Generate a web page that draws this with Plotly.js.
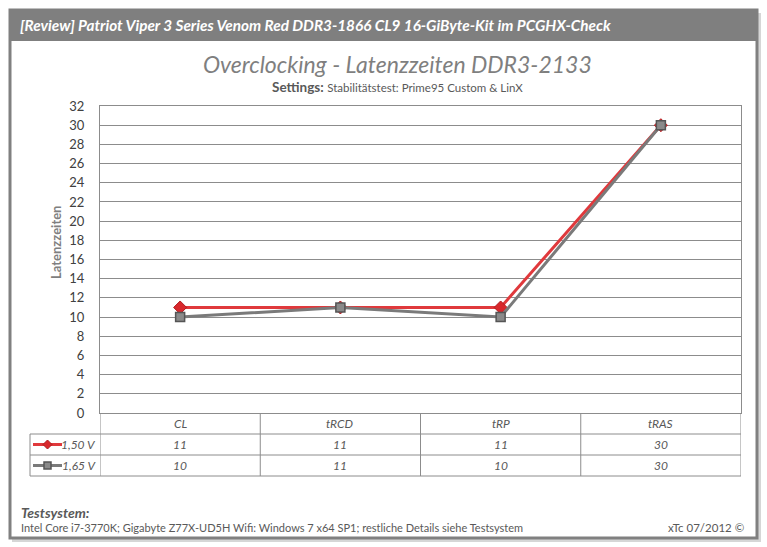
<!DOCTYPE html>
<html>
<head>
<meta charset="utf-8">
<script src="https://cdn.plot.ly/plotly-3.0.1.min.js"></script>
<style>
html,body{margin:0;padding:0;background:#fff;}
#chart{width:767px;height:547px;}
</style>
</head>
<body>
<div id="chart"></div>
<script>
var categories = ["CL", "tRCD", "tRP", "tRAS"];
var seriesNames = ["1,50 V", "1,65 V"];
var values150 = [11, 11, 11, 30];
var values165 = [10, 11, 10, 30];
var yTicks = [0, 2, 4, 6, 8, 10, 12, 14, 16, 18, 20, 22, 24, 26, 28, 30, 32];

var W = 767, H = 547;
var L = 100, R = 26, T = 106, B = 134;
var pw = W - L - R, ph = H - T - B;
function px(x) { return (x - L) / pw; }
function py(y) { return (H - B - y) / ph; }

var FONT = "Lato, 'Open Sans', sans-serif";
var red = "#e0393c", grayL = "#7a7a7a";

var traces = [
  {x: categories, y: values150, name: seriesNames[0], type: "scatter", mode: "lines+markers",
   line: {color: red, width: 3}, marker: {symbol: "diamond", size: 10, color: "#d8282c", line: {color: "#b01c1f", width: 1}}, cliponaxis: false},
  {x: categories, y: values165, name: seriesNames[1], type: "scatter", mode: "lines+markers",
   line: {color: grayL, width: 3}, marker: {symbol: "square", size: 9, color: "#8a8a8a", line: {color: "#555", width: 1.5}}, cliponaxis: false}
];

var shapes = [];
var annotations = [];
// shadow + card
shapes.push({type: "rect", xref: "paper", yref: "paper", x0: px(12), x1: px(761), y0: py(13), y1: py(542), fillcolor: "#d6d6d6", line: {width: 0}, layer: "below"});
shapes.push({type: "rect", xref: "paper", yref: "paper", x0: px(10), x1: px(757), y0: py(10), y1: py(538), fillcolor: "#ffffff", line: {color: "#808080", width: 3}, layer: "below"});
shapes.push({type: "rect", xref: "paper", yref: "paper", x0: px(9), x1: px(757), y0: py(9), y1: py(41), fillcolor: "#7f7f7f", line: {width: 0}, layer: "below"});

// data table
var rowY = [py(413), py(434), py(455), py(476)];
var gridC = "#8c8c8c";
for (var i = 0; i <= categories.length; i++) {
  shapes.push({type: "line", xref: "x", yref: "paper", x0: i - 0.5, x1: i - 0.5, y0: rowY[3], y1: rowY[0], line: {color: gridC, width: 1}});
}
for (var r = 1; r < rowY.length; r++) {
  shapes.push({type: "line", xref: "paper", yref: "paper", x0: px(30), x1: 1, y0: rowY[r], y1: rowY[r], line: {color: gridC, width: 1}});
}
shapes.push({type: "line", xref: "paper", yref: "paper", x0: px(30), x1: px(30), y0: rowY[1], y1: rowY[3], line: {color: gridC, width: 1}});

// legend keys in the data table
var k1 = (rowY[1] + rowY[2]) / 2, k2 = (rowY[2] + rowY[3]) / 2;
shapes.push({type: "line", xref: "paper", yref: "paper", x0: px(33), x1: px(62), y0: k1, y1: k1, line: {color: red, width: 3}});
shapes.push({type: "path", xref: "paper", yref: "paper",
  path: "M " + px(43) + " " + k1 + " L " + px(47.5) + " " + (k1 + 4.5 / ph) + " L " + px(52) + " " + k1 + " L " + px(47.5) + " " + (k1 - 4.5 / ph) + " Z",
  fillcolor: "#d8282c", line: {color: "#b01c1f", width: 1}});
shapes.push({type: "line", xref: "paper", yref: "paper", x0: px(33), x1: px(62), y0: k2, y1: k2, line: {color: grayL, width: 3}});
shapes.push({type: "rect", xref: "paper", yref: "paper", x0: px(44), x1: px(51), y0: k2 - 3.5 / ph, y1: k2 + 3.5 / ph,
  fillcolor: "#8a8a8a", line: {color: "#555", width: 1.5}});

var tFont = {family: FONT, size: 12, color: "#595959"};
function ann(o) { o.showarrow = false; if (!o.yanchor) o.yanchor = "middle"; if (!o.xanchor) o.xanchor = "center"; annotations.push(o); }
categories.forEach(function (c, i) {
  ann({x: i, y: (rowY[0] + rowY[1]) / 2, xref: "x", yref: "paper", text: "<i>" + c + "</i>", font: tFont});
  ann({x: i, y: k1, xref: "x", yref: "paper", text: "<i>" + values150[i] + "</i>", font: tFont});
  ann({x: i, y: k2, xref: "x", yref: "paper", text: "<i>" + values165[i] + "</i>", font: tFont});
});
ann({x: px(98), y: k1, xref: "paper", yref: "paper", xanchor: "right", text: "<i>" + seriesNames[0] + "</i>", font: tFont});
ann({x: px(98), y: k2, xref: "paper", yref: "paper", xanchor: "right", text: "<i>" + seriesNames[1] + "</i>", font: tFont});

// header and titles
ann({x: px(18), y: py(25), xref: "paper", yref: "paper", xanchor: "left", text: "<b><i>[Review] Patriot Viper 3 Series Venom Red DDR3-1866 CL9 16-GiByte-Kit im PCGHX-Check</i></b>", font: {family: FONT, size: 15.3, color: "#ffffff"}});
ann({x: px(397), y: py(64), xref: "paper", yref: "paper", text: "<i>Overclocking - Latenzzeiten DDR3-2133</i>", font: {family: FONT, size: 23, color: "#7f7f7f"}});
ann({x: px(397), y: py(87), xref: "paper", yref: "paper", text: "<b>Settings:</b> <span style='font-size:11.5px'>Stabilitätstest: Prime95 Custom &amp; LinX</span>", font: {family: FONT, size: 13.5, color: "#595959"}});
// y axis title
ann({x: px(56), y: py(243), xref: "paper", yref: "paper", textangle: -90, text: "<b>Latenzzeiten</b>", font: {family: FONT, size: 13, color: "#7f7f7f"}});
// footer
ann({x: px(19), y: py(512), xref: "paper", yref: "paper", xanchor: "left", text: "<b><i>Testsystem:</i></b>", font: {family: FONT, size: 14, color: "#595959"}});
ann({x: px(19), y: py(527), xref: "paper", yref: "paper", xanchor: "left", text: "Intel Core i7-3770K; Gigabyte Z77X-UD5H Wifi: Windows 7 x64 SP1; restliche Details siehe Testsystem", font: {family: FONT, size: 11, color: "#595959"}});
ann({x: px(746), y: py(527), xref: "paper", yref: "paper", xanchor: "right", text: "xTc 07/2012 ©", font: {family: FONT, size: 11.5, color: "#595959"}});

var layout = {
  width: W, height: H,
  margin: {l: L, r: R, t: T, b: B, pad: 0},
  paper_bgcolor: "#ffffff",
  plot_bgcolor: "#d9d9d9",
  showlegend: false,
  font: {family: FONT, color: "#404040"},
  xaxis: {type: "category", range: [-0.5, 3.5], showticklabels: false, showgrid: false, zeroline: false,
          showline: true, mirror: true, linecolor: "#8c8c8c", linewidth: 1, ticks: ""},
  yaxis: {range: [0, 32], tickvals: yTicks, ticktext: yTicks.map(String), showgrid: true, gridcolor: "#8c8c8c", gridwidth: 1,
          zeroline: false, showline: true, mirror: true, linecolor: "#8c8c8c", ticks: "outside", ticklen: 12, tickcolor: "rgba(0,0,0,0)",
          tickfont: {family: FONT, size: 13, color: "#404040"}},
  shapes: shapes,
  annotations: annotations
};

Plotly.newPlot("chart", traces, layout, {displayModeBar: false, staticPlot: true});
</script>
</body>
</html>
